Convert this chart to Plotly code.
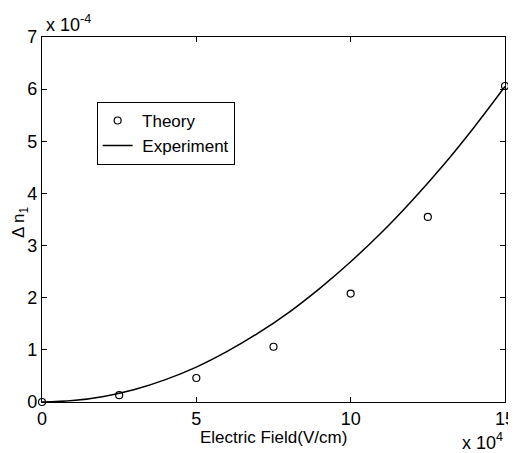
import plotly.graph_objects as go

# Electric field in units of 1e4 V/cm, delta n1 in units of 1e-4
theory_x = [0, 2.5, 5, 7.5, 10, 12.5, 15]
theory_y = [0.0, 0.13, 0.46, 1.06, 2.08, 3.55, 6.06]

exp_x = [0, 1, 2, 3, 4, 5, 6, 7, 8, 9, 10, 11, 12, 13, 14, 15]
exp_y = [0.0, 0.027, 0.107, 0.24, 0.43, 0.67, 0.97, 1.32, 1.72, 2.18,
         2.69, 3.25, 3.87, 4.54, 5.27, 6.05]

x_ticks = [0, 5, 10, 15]
y_ticks = [0, 1, 2, 3, 4, 5, 6, 7]

FONT = "Liberation Sans, Arial, Helvetica, sans-serif"

fig = go.Figure()
fig.add_trace(go.Scatter(
    x=theory_x, y=theory_y, mode="markers", name=" Theory",
    marker=dict(symbol="circle-open", size=7, color="black", line=dict(width=1.2)),
    cliponaxis=False,
))
fig.add_trace(go.Scatter(
    x=exp_x, y=exp_y, mode="lines", name=" Experiment",
    line=dict(color="black", width=1.5, shape="spline"),
))

axis_common = dict(
    showgrid=False, zeroline=False, showline=True, linecolor="black", linewidth=1.2,
    mirror="ticks", ticks="inside", ticklen=5, tickcolor="black", tickwidth=1,
    tickfont=dict(family=FONT, size=18, color="black"), automargin=False,
    ticklabelstandoff=0, ticklabeloverflow="allow",
)

fig.update_layout(
    width=508, height=445,
    margin=dict(l=34, r=11, t=29, b=51),
    paper_bgcolor="white", plot_bgcolor="white",
    font=dict(family=FONT, color="black"),
    xaxis=dict(range=[0, 15], tickvals=x_ticks, ticktext=[str(v) for v in x_ticks],
               **axis_common),
    yaxis=dict(range=[0, 7], tickvals=y_ticks, ticktext=[str(v) for v in y_ticks],
               **axis_common),
    legend=dict(x=0.118, y=0.822, xanchor="left", yanchor="top",
                bordercolor="black", borderwidth=1, bgcolor="white",
                font=dict(family=FONT, size=17), tracegroupgap=0),
    showlegend=True,
    annotations=[
        dict(text="Electric Field(V/cm)", xref="paper", yref="paper", x=0.5, y=-0.096,
             xanchor="center", yanchor="middle", showarrow=False,
             font=dict(family=FONT, size=17)),
        dict(text="Δ n<sub>1</sub>", xref="paper", yref="paper", x=-0.0475, y=0.493,
             xanchor="center", yanchor="middle", textangle=-90, showarrow=False,
             font=dict(family=FONT, size=17)),
        dict(text="x 10<sup>-4</sup>", xref="paper", yref="paper", x=0.004, y=1.0,
             xanchor="left", yanchor="bottom", showarrow=False,
             font=dict(family=FONT, size=18)),
        dict(text="x 10<sup>4</sup>", xref="paper", yref="paper", x=1.0, y=-0.071,
             xanchor="right", yanchor="top", showarrow=False,
             font=dict(family=FONT, size=18)),
    ],
)

fig.write_html("out.html")
